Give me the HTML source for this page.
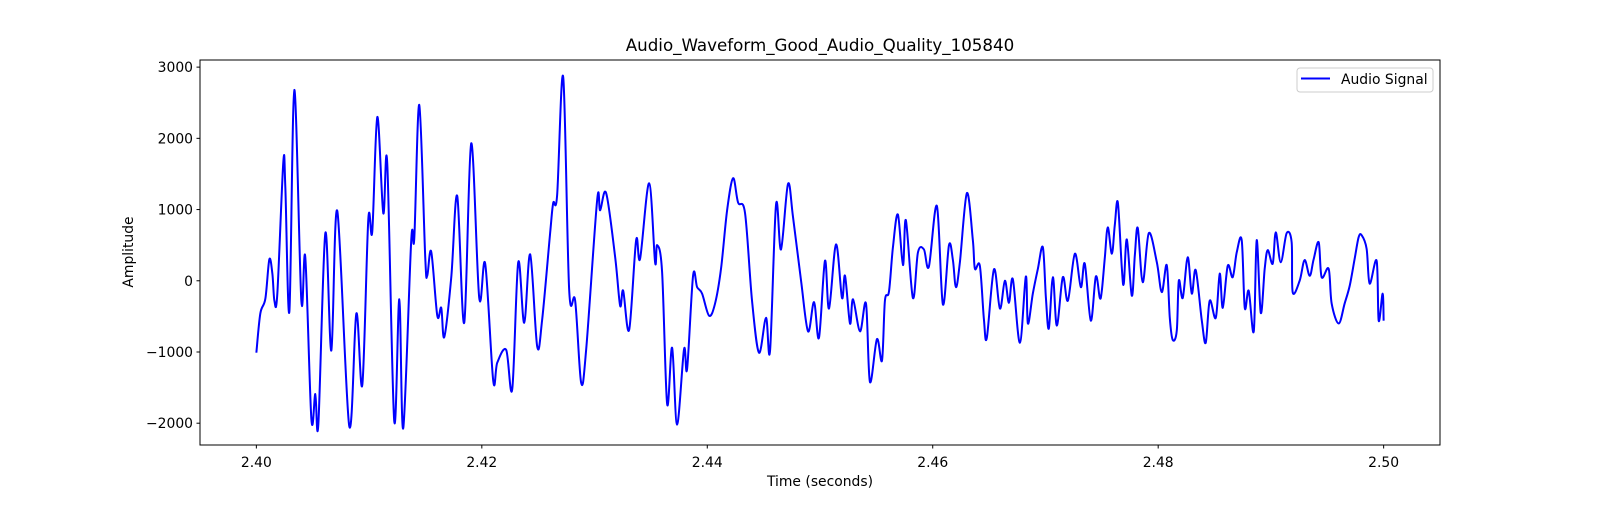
<!DOCTYPE html>
<html><head><meta charset="utf-8"><style>
html,body{margin:0;padding:0;background:#fff;}
svg text{font-family:"DejaVu Sans","Liberation Sans",sans-serif;fill:#000;}
</style></head><body>
<svg id="chart" width="1600" height="500" xmlns="http://www.w3.org/2000/svg">
<rect width="1600" height="500" fill="#fff"/>
<text x="820" y="51" font-size="16.7" text-anchor="middle">Audio_Waveform_Good_Audio_Quality_105840</text>
<g id="yticks"></g>
<g id="xticks"></g>
<g id="plot"></g>
<rect x="200" y="60" width="1240" height="385" fill="none" stroke="#000" stroke-width="1"/>
<text x="820" y="486" font-size="13.9" text-anchor="middle">Time (seconds)</text>
<text transform="translate(133,252) rotate(-90)" font-size="13.9" text-anchor="middle">Amplitude</text>
<g>
<rect x="1297" y="68" width="136" height="24" rx="3" fill="#fff" stroke="#ccc" stroke-width="1"/>
<line x1="1301" y1="78.5" x2="1330" y2="78.5" stroke="#0000ff" stroke-width="2"/>
<text x="1341" y="84" font-size="13.9">Audio Signal</text>
</g>
</svg>
<script>
const timeOffsetMs = [0,0.35,0.8,1.15,1.42,1.6,1.86,2.39,2.57,2.93,3.37,3.99,4.34,4.88,5.23,5.5,6.12,6.65,7.18,8.24,8.87,9.4,9.93,10.28,10.73,11.26,11.61,12.23,12.68,13.03,13.74,14.01,14.45,14.98,15.16,15.51,16.05,16.4,16.67,17.29,17.82,18.44,19.06,19.77,20.3,21.01,21.37,22.16,22.7,23.23,23.76,24.29,24.91,25.35,26.06,26.33,26.68,27.22,27.75,28.28,28.81,29.26,30.23,30.5,31.03,31.83,32.27,32.54,33.07,33.69,34.04,34.84,35.37,35.55,35.99,36.44,36.88,37.32,37.94,38.21,38.74,39.1,39.54,40.16,40.69,41.22,41.76,42.29,42.73,43.35,43.97,44.59,45.21,45.57,46.1,46.54,47.16,47.61,48.32,48.94,49.47,49.91,50.44,50.8,51.42,51.95,52.22,52.66,52.93,53.55,54.08,54.43,55.05,55.5,55.76,56.12,56.47,56.91,57.36,57.62,58.24,58.69,59.22,59.66,60.37,60.9,61.44,61.79,62.06,62.41,63.03,63.56,63.74,64.18,64.54,64.8,65.43,65.96,66.4,66.76,67.11,67.73,68.26,68.44,68.88,69.33,69.77,70.04,70.3,70.66,71.01,71.54,71.99,72.61,73.14,73.49,74.02,74.47,74.82,75,75.27,75.53,75.89,76.15,76.42,76.77,76.95,77.22,77.66,77.93,78.19,78.63,79.17,79.88,80.32,80.76,81.03,81.29,81.65,81.83,82.18,82.62,82.98,83.33,83.87,84.22,84.57,85.11,85.46,85.73,86.17,86.61,86.97,87.41,87.68,88.03,88.48,88.74,89.1,89.45,89.72,90.16,90.43,90.87,91.4,91.84,91.93,92.55,92.99,93.44,93.79,94.24,94.5,95.12,95.39,96.01,96.54,96.99,97.43,97.78,98.05,98.49,98.76,99.38,99.56,99.91,100];
const amplitudes = [-1010,-460,-250,300,100,-280,-180,1665,1314,-430,2680,-280,330,-1940,-1590,-2010,670,-980,980,-2040,-460,-1460,860,690,2300,950,1650,-1970,-260,-2070,570,600,2470,330,70,410,-490,-380,-790,50,1190,-590,1930,-240,240,-1400,-1150,-970,-1520,260,-590,370,-920,-550,670,1090,1200,2860,-130,-280,-1430,-960,1130,990,1230,330,-350,-140,-690,570,310,1370,260,500,130,-1730,-940,-2020,-960,-1240,70,-90,-180,-490,-320,170,990,1440,1100,950,-280,-1010,-520,-980,1070,440,1360,890,0,-710,-300,-800,280,-390,510,-240,70,-600,-260,-710,-320,-1420,-820,-1120,-280,-150,470,930,220,850,-240,400,440,200,1050,-330,500,290,-90,260,1230,570,170,210,-540,-800,160,-390,0,-310,20,-870,60,-600,-180,170,470,-240,-670,50,-630,50,-280,380,-90,240,-560,60,-240,-140,330,750,380,780,1100,190,-40,580,-210,360,740,-20,670,260,-160,220,-520,-830,-700,0,-240,330,-180,150,-560,-870,-280,-520,100,-380,210,50,400,570,-380,-140,-710,570,-450,170,430,240,680,260,670,540,-160,0,290,70,300,540,50,170,-320,-600,-320,-70,310,610,640,450,-40,280,-560,-180,-560];
const xTickLabels = ["2.40","2.42","2.44","2.46","2.48","2.50"];
const yTickLabels = ["−2000","−1000","0","1000","2000","3000"];
const xTickValues = [2.40,2.42,2.44,2.46,2.48,2.50];
const yTickValues = [-2000,-1000,0,1000,2000,3000];

const X0=200,X1=1440,Y0=60,Y1=445;
const xMin=2.395,xMax=2.505,yMin=-2306,yMax=3100;
function sx(t){return X0+(t-xMin)/(xMax-xMin)*(X1-X0);}
function sy(v){return Y1-(v-yMin)/(yMax-yMin)*(Y1-Y0);}
const NS="http://www.w3.org/2000/svg";
const xg=document.getElementById('xticks'), yg=document.getElementById('yticks'), pg=document.getElementById('plot');
xTickValues.forEach((v,i)=>{
  const l=document.createElementNS(NS,'line');
  
  
  l.setAttribute('x1',sx(v));l.setAttribute('x2',sx(v));l.setAttribute('y1',445);l.setAttribute('y2',448.5);l.setAttribute('stroke','#000');
  xg.appendChild(l);
  const t=document.createElementNS(NS,'text');
  
  
  t.setAttribute('x',sx(v));t.setAttribute('y',467);t.setAttribute('font-size','13.9');t.setAttribute('text-anchor','middle');
  t.textContent=xTickLabels[i];xg.appendChild(t);
});
yTickValues.forEach((v,i)=>{
  const l=document.createElementNS(NS,'line');
  
  
  l.setAttribute('x1',196.5);l.setAttribute('x2',200);l.setAttribute('y1',sy(v));l.setAttribute('y2',sy(v));l.setAttribute('stroke','#000');
  yg.appendChild(l);
  const t=document.createElementNS(NS,'text');
  
  
  t.setAttribute('x',193);t.setAttribute('y',sy(v)+5);t.setAttribute('font-size','13.9');t.setAttribute('text-anchor','end');
  t.textContent=yTickLabels[i];yg.appendChild(t);
});
const P=timeOffsetMs.map((ms,i)=>[sx(2.4+ms/1000),sy(amplitudes[i])]);
let d='M'+P[0][0].toFixed(2)+','+P[0][1].toFixed(2);
for(let i=0;i<P.length-1;i++){
  const p0=P[Math.max(0,i-1)],p1=P[i],p2=P[i+1],p3=P[Math.min(P.length-1,i+2)];
  const c1x=p1[0]+(p2[0]-p0[0])/6,c1y=p1[1]+(p2[1]-p0[1])/6;
  const c2x=p2[0]-(p3[0]-p1[0])/6,c2y=p2[1]-(p3[1]-p1[1])/6;
  d+=' C'+c1x.toFixed(2)+','+c1y.toFixed(2)+' '+c2x.toFixed(2)+','+c2y.toFixed(2)+' '+p2[0].toFixed(2)+','+p2[1].toFixed(2);
}
const pl=document.createElementNS(NS,'path');


pl.setAttribute('d',d);pl.setAttribute('fill','none');pl.setAttribute('stroke','#0000ff');pl.setAttribute('stroke-width','2');pl.setAttribute('stroke-linejoin','round');
pg.appendChild(pl);
</script>
</body></html>
